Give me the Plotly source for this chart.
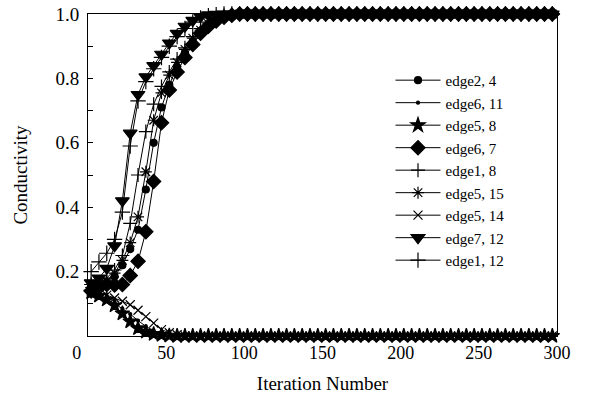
import plotly.graph_objects as go

# Iteration numbers where markers are drawn
ITER = list(range(2, 300, 5))

P1 = [1.0, 1.0, 1.0, 1.0, 1.0, 1.0, 1.0, 1.0, 1.0, 1.0,
      1.0, 1.0, 1.0, 1.0, 1.0, 1.0, 1.0, 1.0, 1.0, 1.0,
      1.0, 1.0, 1.0, 1.0, 1.0, 1.0, 1.0, 1.0, 1.0, 1.0,
      1.0, 1.0, 1.0, 1.0, 1.0, 1.0, 1.0, 1.0, 1.0, 1.0]

edge2_4 = [0.15, 0.155, 0.165, 0.185, 0.22, 0.27, 0.33, 0.455, 0.60, 0.71,
           0.78, 0.835, 0.88, 0.915, 0.945, 0.965, 0.98, 0.99, 0.996, 1.0] + P1
edge6_7 = [0.14, 0.15, 0.16, 0.158, 0.16, 0.188, 0.232, 0.324, 0.48, 0.662,
           0.764, 0.82, 0.865, 0.905, 0.94, 0.962, 0.978, 0.99, 0.996, 1.0] + P1
edge1_8 = [0.16, 0.165, 0.18, 0.205, 0.25, 0.35, 0.50, 0.635, 0.72, 0.775,
           0.82, 0.86, 0.895, 0.93, 0.955, 0.975, 0.988, 0.995, 0.998, 1.0] + P1
edge5_15 = [0.15, 0.155, 0.17, 0.195, 0.235, 0.29, 0.37, 0.51, 0.67, 0.755,
            0.81, 0.85, 0.89, 0.925, 0.95, 0.97, 0.985, 0.993, 0.997, 1.0] + P1
edge7_12 = [0.165, 0.18, 0.21, 0.28, 0.42, 0.63, 0.75, 0.805, 0.84, 0.875,
            0.91, 0.94, 0.962, 0.98, 0.992, 0.997, 0.999, 1.0, 1.0, 1.0] + P1
edge1_12 = [0.20, 0.23, 0.257, 0.30, 0.385, 0.59, 0.73, 0.79, 0.83, 0.865,
            0.90, 0.93, 0.955, 0.975, 0.988, 0.995, 0.998, 1.0, 1.0, 1.0] + P1

P0 = [0.0, 0.0, 0.0, 0.0, 0.0, 0.0, 0.0, 0.0, 0.0, 0.0,
      0.0, 0.0, 0.0, 0.0, 0.0, 0.0, 0.0, 0.0, 0.0, 0.0,
      0.0, 0.0, 0.0, 0.0, 0.0, 0.0, 0.0, 0.0, 0.0, 0.0,
      0.0, 0.0, 0.0, 0.0, 0.0, 0.0, 0.0, 0.0, 0.0, 0.0]

edge6_11 = [0.125, 0.12, 0.112, 0.10, 0.085, 0.068, 0.048, 0.03, 0.016, 0.008,
            0.003, 0.001, 0.0, 0.0, 0.0, 0.0, 0.0, 0.0, 0.0, 0.0] + P0
edge5_8 = [0.135, 0.125, 0.113, 0.095, 0.07, 0.045, 0.024, 0.013, 0.006, 0.003,
           0.001, 0.0, 0.0, 0.0, 0.0, 0.0, 0.0, 0.0, 0.0, 0.0] + P0
edge5_14 = [0.14, 0.135, 0.127, 0.118, 0.108, 0.097, 0.08, 0.06, 0.04, 0.02,
            0.01, 0.004, 0.001, 0.0, 0.0, 0.0, 0.0, 0.0, 0.0, 0.0] + P0

NAMES = ["edge2, 4", "edge6, 11", "edge5, 8", "edge6, 7", "edge1, 8",
         "edge5, 15", "edge5, 14", "edge7, 12", "edge1, 12"]
SERIES = [edge2_4, edge6_11, edge5_8, edge6_7, edge1_8,
          edge5_15, edge5_14, edge7_12, edge1_12]
SYMBOLS = ["circle", "circle", "star", "diamond", "cross-thin-open",
           "asterisk-open", "x-thin-open", "triangle-down", "cross-thin-open"]
SIZES = [7, 3, 11, 11, 10, 10, 9, 12, 11]

X_TICKS = [0, 50, 100, 150, 200, 250, 300]
X_TICKTEXT = ["0\u00a0\u00a0\u00a0\u00a0\u00a0", "50", "100", "150", "200", "250", "300"]
Y_TICKS = [0.2, 0.4, 0.6, 0.8, 1.0]
Y_TICKTEXT = ["0.2", "0.4", "0.6", "0.8", "1.0"]
Y_MINOR = [0.1, 0.3, 0.5, 0.7, 0.9]

FONT = "Liberation Serif, Times New Roman, serif"

fig = go.Figure()
for name, ys, sym, sz in zip(NAMES, SERIES, SYMBOLS, SIZES):
    fig.add_trace(go.Scatter(
        x=ITER, y=ys, name=name, mode="lines+markers",
        line=dict(color="black", width=1),
        marker=dict(symbol=sym, size=sz, color="black",
                    line=dict(color="black", width=1.2)),
        cliponaxis=False,
    ))

fig.update_layout(
    width=599, height=396,
    margin=dict(l=88, r=42, t=14, b=60),
    paper_bgcolor="white", plot_bgcolor="white",
    font=dict(family=FONT, size=18, color="black"),
    showlegend=True,
    legend=dict(x=0.645, y=0.845, xanchor="left", yanchor="top",
                bgcolor="rgba(0,0,0,0)", borderwidth=0,
                font=dict(family=FONT, size=15, color="black"),
                tracegroupgap=0, itemwidth=45),
    xaxis=dict(range=[0, 300], tickmode="array", tickvals=X_TICKS, ticktext=X_TICKTEXT,
               automargin=False,
               showline=True, mirror=True, linecolor="black", linewidth=1,
               showgrid=False, zeroline=False, ticks="",
               tickfont=dict(family=FONT, size=18),
               title=dict(text="Iteration Number", font=dict(family=FONT, size=19), standoff=15)),
    yaxis=dict(range=[0, 1], tickmode="array", tickvals=Y_TICKS, ticktext=Y_TICKTEXT,
               automargin=False,
               showline=True, mirror=True, linecolor="black", linewidth=1,
               showgrid=False, zeroline=False, ticks="inside", ticklen=5, tickcolor="black",
               ticklabelstandoff=4,
               minor=dict(tickvals=Y_MINOR, ticks="inside", ticklen=5, tickcolor="black", showgrid=False),
               tickfont=dict(family=FONT, size=19),
               title=dict(text="Conductivity", font=dict(family=FONT, size=19), standoff=22)),
)

fig.write_html("out.html")
